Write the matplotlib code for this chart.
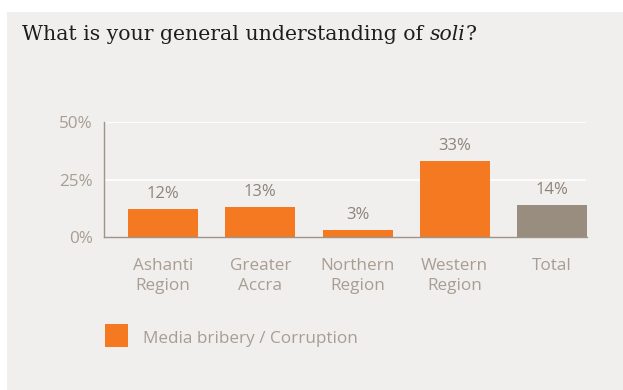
import matplotlib
matplotlib.use("Agg")
import matplotlib.pyplot as plt
from matplotlib.patches import Rectangle

categories = ["Ashanti\nRegion", "Greater\nAccra", "Northern\nRegion", "Western\nRegion", "Total"]
values = [12, 13, 3, 33, 14]
value_labels = ["12%", "13%", "3%", "33%", "14%"]
yticks = [0, 25, 50]
ytick_labels = ["0%", "25%", "50%"]
legend_label = "Media bribery / Corruption"

W, H = 623, 390
DPI = 100
fig = plt.figure(figsize=(W / DPI, H / DPI), dpi=DPI, facecolor="white")

panel_col = "#f0efed"
orange = "#f47920"
taupe = "#998d80"
text_col = "#a89d93"
label_col = "#8e8379"

# background panel
fig.patches.append(Rectangle((7 / W, 0), 1 - 7 / W, 1 - 12 / H, transform=fig.transFigure,
                             facecolor=panel_col, edgecolor="none", zorder=-5))

sans = ["Open Sans", "DejaVu Sans"]
serif = ["DejaVu Serif"]
title_size = 14.7
title_base = 1 - 39.5 / H

renderer = fig.canvas.get_renderer()
t1 = fig.text(22 / W, title_base, "What is your general understanding of ", family=serif,
              fontsize=title_size, color="#1e1e1e", va="baseline", ha="left")
bb = t1.get_window_extent(renderer=renderer)
t2 = fig.text(bb.x1 / W, title_base, "soli", family=serif, style="italic",
              fontsize=title_size, color="#1e1e1e", va="baseline", ha="left")
bb2 = t2.get_window_extent(renderer=renderer)
fig.text(bb2.x1 / W, title_base, "?", family=serif,
         fontsize=title_size, color="#1e1e1e", va="baseline", ha="left")

# axes: x from 104 to 587 px, 0% at y=237, 50% at y=122
ax_left, ax_right = 104, 587
y0_px, y50_px = 237, 122
ax = fig.add_axes([ax_left / W, 1 - y0_px / H, (ax_right - ax_left) / W, (y0_px - y50_px) / H])
ax.set_zorder(1)
ax.set_facecolor("none")
ax.set_ylim(0, 50)
ax.set_xlim(-0.607, 4.36)

x = list(range(len(categories)))
colors = [orange] * 4 + [taupe]
ax.bar(x, values, width=0.72, color=colors, zorder=2)

for xi, v, lab in zip(x, values, value_labels):
    ax.annotate(lab, (xi, v), xytext=(0, 11), textcoords="offset points", ha="center",
                va="center", fontsize=12, color=label_col, family=sans)

ax.set_yticks(yticks)
ax.set_yticklabels(ytick_labels)
ax.set_xticks(x)
ax.set_xticklabels(categories)
ax.tick_params(axis="both", length=0, labelsize=12.3, colors=text_col)
for lbl in ax.get_yticklabels() + ax.get_xticklabels():
    lbl.set_family(sans)
ax.tick_params(axis="y", pad=8)
ax.tick_params(axis="x", pad=15)
for lbl in ax.get_xticklabels():
    lbl.set_linespacing(1.32)

for g in [25, 50]:
    ax.axhline(g, xmin=0, xmax=(585 - ax_left) / (ax_right - ax_left), color="white", lw=1.2, zorder=1)

for s in ["top", "right"]:
    ax.spines[s].set_visible(False)
ax.spines["left"].set_color("#9e948a")
ax.spines["bottom"].set_color("#9e948a")
ax.spines["left"].set_linewidth(1.0)
ax.spines["bottom"].set_linewidth(1.0)

# legend
fig.patches.append(Rectangle((105 / W, 1 - 347 / H), 23 / W, 23 / H, transform=fig.transFigure,
                             facecolor=orange, edgecolor="none", zorder=2))
fig.text(143 / W, 1 - 339 / H, legend_label, fontsize=12.3, color=text_col, family=sans,
         va="center", ha="left")

fig.savefig("out.png", dpi=DPI, facecolor="white")
